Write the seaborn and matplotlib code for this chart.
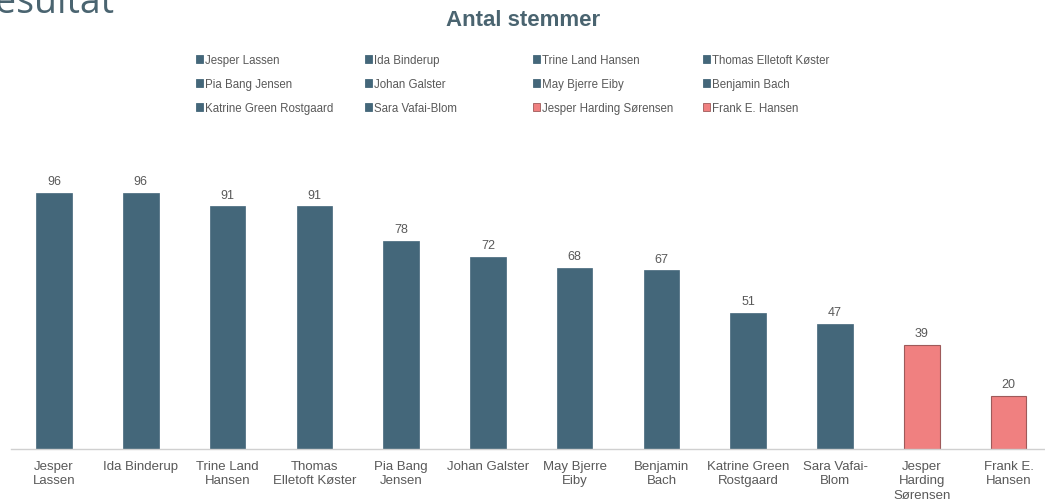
import matplotlib
matplotlib.use("Agg")
import matplotlib.pyplot as plt
import seaborn as sns
import pandas as pd
from matplotlib.patches import Patch

names = ["Jesper Lassen", "Ida Binderup", "Trine Land Hansen", "Thomas Elletoft Køster",
         "Pia Bang Jensen", "Johan Galster", "May Bjerre Eiby", "Benjamin Bach",
         "Katrine Green Rostgaard", "Sara Vafai-Blom", "Jesper Harding Sørensen", "Frank E. Hansen"]
tick_labels = ["Jesper\nLassen", "Ida Binderup", "Trine Land\nHansen", "Thomas\nElletoft Køster",
               "Pia Bang\nJensen", "Johan Galster", "May Bjerre\nEiby", "Benjamin\nBach",
               "Katrine Green\nRostgaard", "Sara Vafai-\nBlom", "Jesper\nHarding\nSørensen", "Frank E.\nHansen"]
votes = [96, 96, 91, 91, 78, 72, 68, 67, 51, 47, 39, 20]
groups = ["a"] * 10 + ["b"] * 2

BLUE = "#44677A"
PINK = "#F08080"
PINK_EDGE = "#9E5A5A"
TEXT = "#595959"

sns.set_theme(style="white")
plt.rcParams['font.family'] = ['Liberation Sans', 'DejaVu Sans']

fig = plt.figure(figsize=(10.45, 5.02), dpi=100)
W, H = 1045, 502
left_px, right_px = 10.6, 1052.0
base_px, top_px = 450, 130
ax = fig.add_axes([left_px / W, 1 - base_px / H, (right_px - left_px) / W, (base_px - top_px) / H])

df = pd.DataFrame({"name": names, "votes": votes, "group": groups})
colors = [BLUE if g == "a" else PINK for g in groups]
sns.barplot(data=df, x="name", y="votes", hue="name", palette=colors, width=0.41,
            legend=False, ax=ax, saturation=1)
for patch, g in zip(ax.patches, groups):
    if g == "b":
        patch.set_edgecolor(PINK_EDGE)
        patch.set_linewidth(0.8)
    else:
        patch.set_edgecolor(BLUE)
        patch.set_linewidth(0.5)

for c in ax.containers:
    ax.bar_label(c, fontsize=9, color=TEXT, padding=4)

ax.set_xlim(-0.5, len(names) - 0.5)
ax.set_ylim(0, (base_px - top_px) / 2.667)
ax.set_xlabel("")
ax.set_ylabel("")
ax.set_yticks([])
ax.set_xticks(range(len(names)))
ax.set_xticklabels(tick_labels, fontsize=9.5, color=TEXT, linespacing=1.25)
ax.tick_params(axis="x", length=0, pad=8)
for s in ["top", "right", "left"]:
    ax.spines[s].set_visible(False)
ax.spines["bottom"].set_color("#D0D0D0")
ax.spines["bottom"].set_linewidth(1.0)

fig.text(523 / W, 1 - 21 / H, "Antal stemmer", ha="center", va="center",
         fontsize=16, fontweight="bold", color="#4A6470")

fig.text(-28 / W, 1 - 13 / H, "Resultat", ha="left", va="baseline",
         fontsize=27, color="#4A6470", family=["Open Sans", "DejaVu Sans"])

# legend: 3 rows x 4 fixed-width columns, filled row-wise
handles = [Patch(facecolor=c, edgecolor=(PINK_EDGE if c == PINK else c), linewidth=0.6) for c in colors]
ncol = 4
col_x = [196, 365, 533, 703]
for ci in range(ncol):
    idx = [r * ncol + ci for r in range(3)]
    leg = fig.legend([handles[i] for i in idx], [names[i] for i in idx], ncol=1,
                     loc="upper left", bbox_to_anchor=(col_x[ci] / W, 1 - 55 / H), frameon=False,
                     fontsize=8.3, handlelength=0.6, handleheight=0.6, handletextpad=0.2,
                     labelspacing=1.05, borderaxespad=0, borderpad=0)
    for t in leg.get_texts():
        t.set_color(TEXT)

fig.savefig("out.png", dpi=100)
